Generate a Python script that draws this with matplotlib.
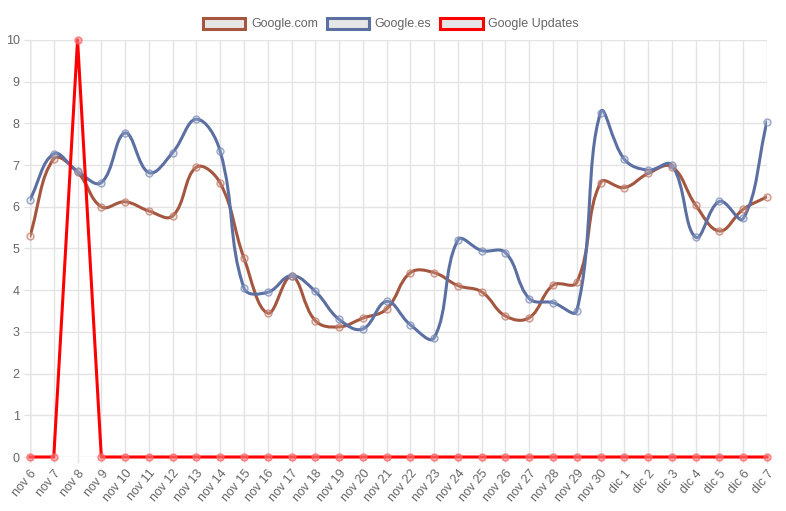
import numpy as np
import matplotlib
matplotlib.use('Agg')
import matplotlib.pyplot as plt
from matplotlib.path import Path
from matplotlib.patches import PathPatch, Patch

plt.rcParams['font.family'] = ['Liberation Sans', 'DejaVu Sans']

# labels for the x axis
days = ["nov 6", "nov 7", "nov 8", "nov 9", "nov 10", "nov 11", "nov 12", "nov 13",
        "nov 14", "nov 15", "nov 16", "nov 17", "nov 18", "nov 19", "nov 20", "nov 21",
        "nov 22", "nov 23", "nov 24", "nov 25", "nov 26", "nov 27", "nov 28", "nov 29",
        "nov 30", "dic 1", "dic 2", "dic 3", "dic 4", "dic 5", "dic 6", "dic 7"]

google_com = [5.3, 7.15, 6.83, 6.0, 6.12, 5.9, 5.78, 6.95, 6.57, 4.77, 3.45, 4.33,
              3.27, 3.12, 3.33, 3.55, 4.42, 4.42, 4.11, 3.96, 3.38, 3.34, 4.12, 4.19,
              6.58, 6.46, 6.8, 6.96, 6.04, 5.42, 5.94, 6.24]

google_es = [6.17, 7.27, 6.85, 6.58, 7.77, 6.82, 7.3, 8.1, 7.33, 4.05, 3.95, 4.35,
             3.97, 3.3, 3.07, 3.73, 3.17, 2.86, 5.2, 4.95, 4.9, 3.8, 3.7, 3.51,
             8.26, 7.14, 6.88, 7.0, 5.27, 6.13, 5.72, 8.04]

updates = [0, 0, 10, 0, 0, 0, 0, 0, 0, 0, 0, 0, 0, 0, 0, 0,
           0, 0, 0, 0, 0, 0, 0, 0, 0, 0, 0, 0, 0, 0, 0, 0]

W, H = 786, 511
left, right, top, bottom = 30, 767, 40, 457

fig = plt.figure(figsize=(W / 100, H / 100), dpi=100)
ax = fig.add_axes([left / W, 1 - bottom / H, (right - left) / W, (bottom - top) / H])

n = len(days)
ax.set_xlim(0, n - 1)
ax.set_ylim(0, 10)

# pixels per data unit, so the spline is computed like chart.js does (in pixels)
sx = (right - left) / (n - 1)
sy = (bottom - top) / 10.0


def spline_path(values, tension=0.4):
    xs = np.arange(len(values)) * sx
    ys = np.array(values) * sy
    cps = []
    for i in range(len(xs)):
        p = (xs[max(i - 1, 0)], ys[max(i - 1, 0)])
        c = (xs[i], ys[i])
        nx = (xs[min(i + 1, len(xs) - 1)], ys[min(i + 1, len(xs) - 1)])
        d01 = np.hypot(c[0] - p[0], c[1] - p[1])
        d12 = np.hypot(nx[0] - c[0], nx[1] - c[1])
        tot = d01 + d12
        s01 = d01 / tot if tot else 0
        s12 = d12 / tot if tot else 0
        fa = tension * s01
        fb = tension * s12
        prev_cp = (c[0] - fa * (nx[0] - p[0]), c[1] - fa * (nx[1] - p[1]))
        next_cp = (c[0] + fb * (nx[0] - p[0]), c[1] + fb * (nx[1] - p[1]))
        cps.append((prev_cp, next_cp))
    verts = [(xs[0], ys[0])]
    codes = [Path.MOVETO]
    for i in range(len(xs) - 1):
        verts += [cps[i][1], cps[i + 1][0], (xs[i + 1], ys[i + 1])]
        codes += [Path.CURVE4] * 3
    verts = [(vx / sx, min(max(vy / sy, 0), 10)) for vx, vy in verts]
    return Path(verts, codes)


grid_col = '#e3e3e3'
text_col = '#666666'

ax.set_xticks(range(n))
ax.set_xticklabels(days, rotation=50, ha='right', va='top', rotation_mode='anchor')
ax.set_yticks(range(0, 11))
ax.grid(True, color=grid_col, linewidth=1)
ax.set_axisbelow(True)
for s in ax.spines.values():
    s.set_visible(False)
ax.axvline(0, color='#c8c8c8', linewidth=1, zorder=0.5)
ax.tick_params(axis='both', colors=grid_col, length=4.5, width=1, labelcolor=text_col,
               labelsize=9, pad=3)

brown = '#a5563f'
blue = '#5b6fa3'
red = '#ff0000'

x = np.arange(n)
ax.add_patch(PathPatch(spline_path(google_com), fill=False, edgecolor=brown, linewidth=2.2,
                       zorder=3, capstyle='round', joinstyle='round'))
ax.add_patch(PathPatch(spline_path(google_es), fill=False, edgecolor=blue, linewidth=2.2,
                       zorder=3, capstyle='round', joinstyle='round'))
ax.plot(x, updates, color=red, linewidth=2.2, zorder=4, clip_on=False)

ax.plot(x, google_com, 'o', markersize=5, markerfacecolor=(0.85, 0.7, 0.65, 0.3),
        markeredgecolor=(0.75, 0.45, 0.38, 0.7), markeredgewidth=1, zorder=5, clip_on=False)
ax.plot(x, google_es, 'o', markersize=5, markerfacecolor=(0.7, 0.75, 0.85, 0.3),
        markeredgecolor=(0.45, 0.52, 0.7, 0.7), markeredgewidth=1, zorder=5, clip_on=False)
ax.plot(x, updates, 'o', markersize=5, markerfacecolor=(1, 0.5, 0.5, 0.6),
        markeredgecolor=(1, 0.4, 0.4, 0.8), markeredgewidth=1, zorder=6, clip_on=False)

handles = [Patch(facecolor='#e6e6e6', edgecolor=brown, linewidth=2.2, label='Google.com'),
           Patch(facecolor='#e6e6e6', edgecolor=blue, linewidth=2.2, label='Google.es'),
           Patch(facecolor='#e6e6e6', edgecolor=red, linewidth=2.2, label='Google Updates')]
leg = fig.legend(handles=handles, loc='center', bbox_to_anchor=(391 / W, 1 - 24 / H),
                 ncol=3, frameon=False, fontsize=9, handlelength=3.4, handleheight=1.0,
                 handletextpad=0.45, columnspacing=0.7, borderaxespad=0)
for t in leg.get_texts():
    t.set_color(text_col)

fig.savefig('out.png', dpi=100)
